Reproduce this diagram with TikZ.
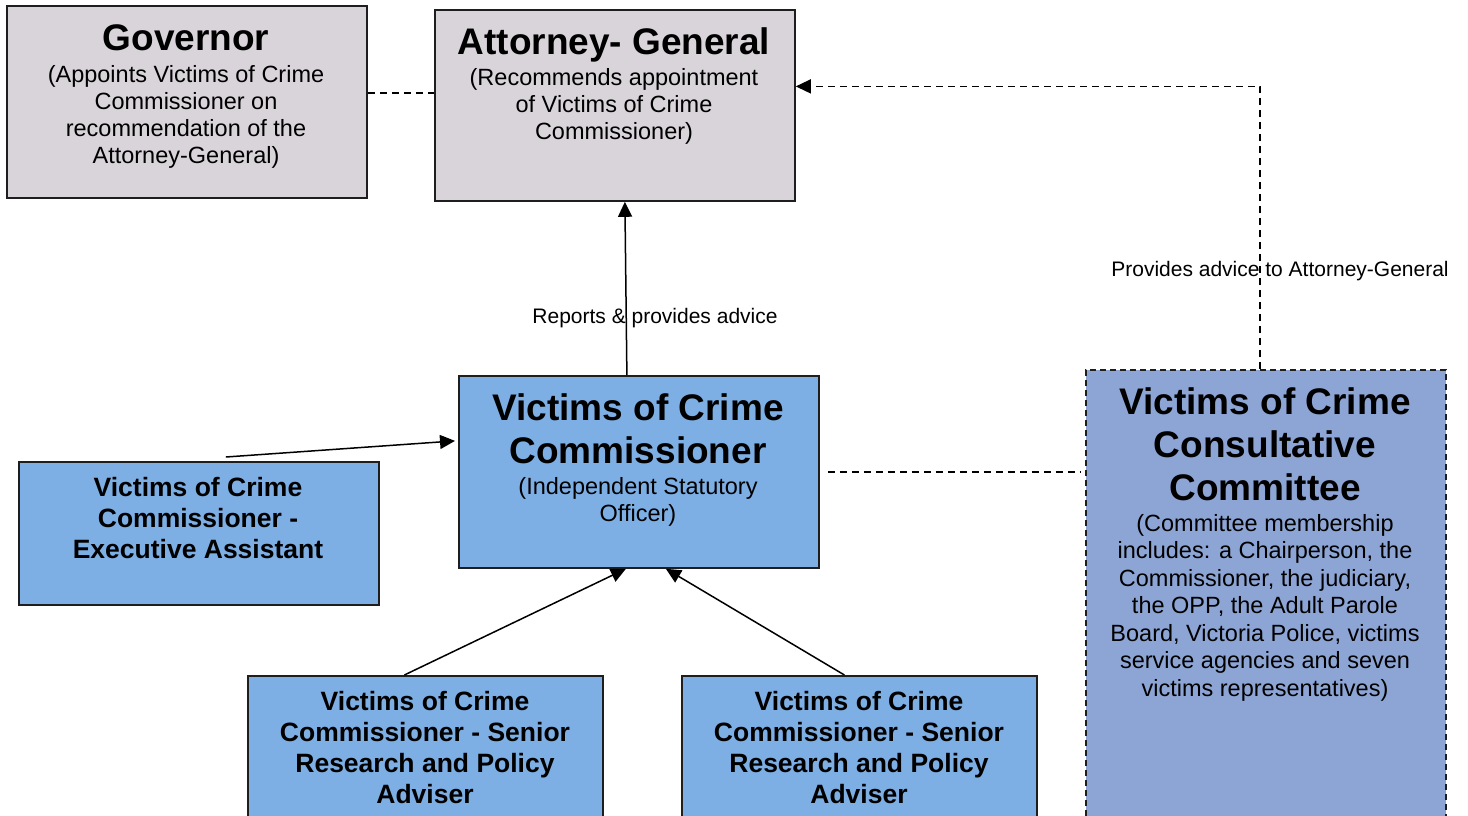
\documentclass[tikz,border=0pt]{standalone}
\usepackage{fontspec}
\setmainfont{Liberation Sans}
\usetikzlibrary{arrows.meta}
\definecolor{greybox}{RGB}{217,212,218}
\definecolor{bluebox}{RGB}{125,175,228}
\definecolor{cvcbox}{RGB}{141,165,212}
\definecolor{edge}{RGB}{30,30,30}
\begin{document}
\begin{tikzpicture}[x=1pt,y=-1pt,
 box/.style={draw=edge, line width=1.8pt, inner sep=0pt, anchor=north west},
 ttl/.style={font=\fontsize{37}{43}\selectfont\bfseries, align=center, inner sep=0pt, anchor=north},
 sub/.style={font=\fontsize{23.5}{27}\selectfont, align=center, inner sep=0pt, anchor=north},
 staff/.style={font=\fontsize{26.5}{30.8}\selectfont\bfseries, align=center, inner sep=0pt, anchor=north},
 lbl/.style={font=\fontsize{21}{25}\selectfont, inner sep=0pt},
 link/.style={line width=1.5pt, -{Triangle[length=15pt,width=14pt]}},
 dashlink/.style={line width=1.5pt, dash pattern=on 7pt off 5pt}
]
\useasboundingbox (0,0) rectangle (1468,816);
\clip (0,0) rectangle (1468,816);
% boxes
\node[box, fill=greybox, minimum width=360pt, minimum height=192pt] (gov) at (6,5) {};
\node[box, fill=greybox, minimum width=360pt, minimum height=191pt] (ag) at (434,9) {};
\node[box, fill=bluebox, minimum width=360pt, minimum height=192pt] (com) at (458,375) {};
\node[box, fill=bluebox, minimum width=360pt, minimum height=143pt] (ea) at (18,461) {};
\node[box, fill=bluebox, minimum width=355pt, minimum height=160pt] (adv1) at (247,675) {};
\node[box, fill=bluebox, minimum width=355pt, minimum height=160pt] (adv2) at (681,675) {};
\node[box, fill=cvcbox, dash pattern=on 6pt off 4pt, minimum width=360pt, minimum height=470pt] (cvc) at (1085,369) {};
% texts
\node[ttl] (govt) at (186,24.5) {Governor};
\node[sub] (govs) at (186,65) {(Appoints Victims of Crime\\Commissioner on\\recommendation of the\\Attorney-General)};
\node[ttl] (agt) at (614,27.5) {Attorney- General};
\node[sub] (ags) at (614,68) {(Recommends appointment\\of Victims of Crime\\Commissioner)};
\node[ttl] (comt) at (638,393.5) {Victims of Crime\\Commissioner};
\node[sub] (coms) at (638,477) {(Independent Statutory\\Officer)};
\node[ttl] (cvct) at (1265,387.5) {Victims of Crime\\Consultative\\Committee};
\node[sub, font=\fontsize{23.5}{27.5}\selectfont] (cvcs) at (1265,514) {(Committee membership\\includes: a Chairperson, the\\Commissioner, the judiciary,\\the OPP, the Adult Parole\\Board, Victoria Police, victims\\service agencies and seven\\victims representatives)};
\node[staff] (eat) at (198,477.5) {Victims of Crime\\Commissioner -\\Executive Assistant};
\node[staff] (adv1t) at (425,691.5) {Victims of Crime\\Commissioner - Senior\\Research and Policy\\Adviser};
\node[staff] (adv2t) at (859,691.5) {Victims of Crime\\Commissioner - Senior\\Research and Policy\\Adviser};
% labels
\node[lbl] (l1) at (655,318) {Reports \& provides advice};
\node[lbl] (l2) at (1280,271) {Provides advice to Attorney-General};
% connectors
\draw[dashlink] (gov.east |- 0,93) -- (ag.west |- 0,93);
\draw[link] ([xshift=-12pt]com.north) -- ([xshift=10pt]ag.south);
\draw[dashlink, -{Triangle[length=15pt,width=14pt]}] ([xshift=-6pt]cvc.north) |- ([yshift=19pt]ag.east);
\draw[dashlink] ([xshift=8pt]com.east) -- ([xshift=-5pt]cvc.west |- com.east);
\draw[link] ([xshift=27pt,yshift=4pt]ea.north) -- ([xshift=-3pt,yshift=31pt]com.west);
\draw[link] ([xshift=-21pt]adv1.north) -- ([xshift=-13pt]com.south);
\draw[link] ([xshift=-15pt]adv2.north) -- ([xshift=27pt]com.south);
\end{tikzpicture}
\end{document}
